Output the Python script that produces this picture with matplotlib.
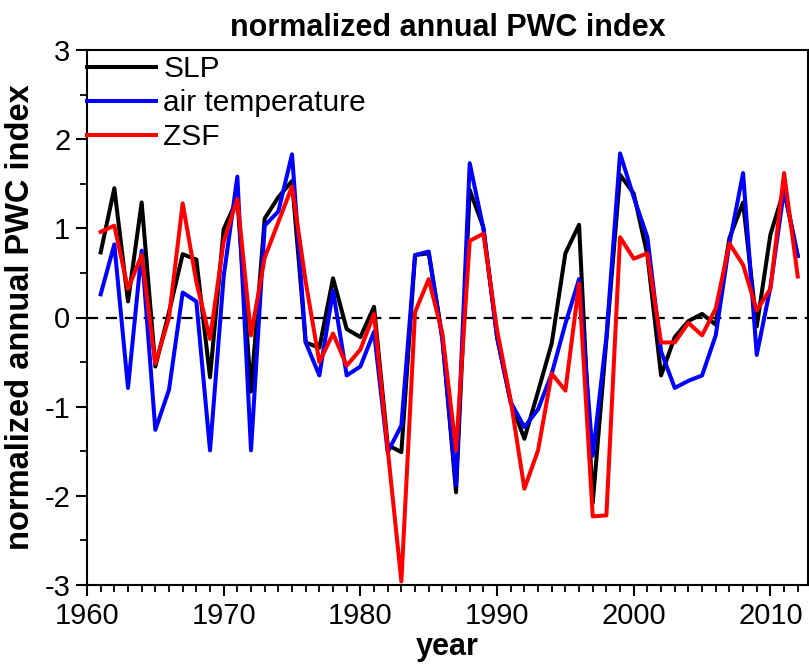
import numpy as np
import matplotlib
matplotlib.use("Agg")
import matplotlib.pyplot as plt
from matplotlib.ticker import MultipleLocator

plt.rcParams['font.family'] = ['Liberation Sans', 'DejaVu Sans']
plt.rcParams['axes.unicode_minus'] = False

years = np.arange(1961, 2013)

slp = [0.73, 1.45, 0.18, 1.29, -0.55, 0.06, 0.71, 0.65, -0.67, 0.99,
       1.33, -0.83, 1.11, 1.35, 1.53, -0.28, -0.34, 0.44, -0.13, -0.22,
       0.12, -1.43, -1.51, 0.70, 0.72, -0.22, -1.96, 1.43, 1.01, -0.22,
       -0.95, -1.36, -0.83, -0.29, 0.72, 1.04, -2.08, -0.25, 1.60, 1.39,
       0.70, -0.65, -0.22, -0.04, 0.04, -0.08, 0.89, 1.29, -0.10, 0.93,
       1.43, 0.69]

air_temp = [0.26, 0.82, -0.79, 0.75, -1.26, -0.81, 0.28, 0.18, -1.49, 0.46,
            1.58, -1.49, 1.03, 1.19, 1.83, -0.28, -0.65, 0.30, -0.65, -0.55,
            -0.16, -1.51, -1.21, 0.70, 0.74, -0.25, -1.88, 1.73, 1.00, -0.22,
            -0.95, -1.23, -1.03, -0.63, -0.07, 0.43, -1.55, -0.22, 1.84, 1.35,
            0.90, -0.38, -0.79, -0.71, -0.65, -0.20, 0.83, 1.62, -0.42, 0.34,
            1.43, 0.69]

zsf = [0.96, 1.03, 0.32, 0.70, -0.52, 0.00, 1.28, 0.40, -0.24, 0.85,
       1.33, -0.20, 0.67, 1.07, 1.47, 0.40, -0.50, -0.18, -0.54, -0.36,
       0.04, -1.48, -2.96, 0.06, 0.43, -0.18, -1.49, 0.86, 0.94, -0.14,
       -0.93, -1.92, -1.49, -0.63, -0.82, 0.38, -2.23, -2.22, 0.90, 0.66,
       0.72, -0.28, -0.28, -0.06, -0.20, 0.10, 0.83, 0.59, 0.08, 0.32,
       1.62, 0.46]

fig = plt.figure(figsize=(8.09, 6.64), dpi=100)
ax = fig.add_axes([87 / 809, 1 - 585 / 664, 721 / 809, 535 / 664])

ax.axhline(0, color='black', lw=1.6, ls=(0, (5, 3.5)), zorder=1)
ax.plot(years, slp, color='black', lw=2.9, label='SLP', zorder=2)
ax.plot(years, air_temp, color='#0000ff', lw=2.9, label='air temperature', zorder=3)
ax.plot(years, zsf, color='#ff0000', lw=2.9, label='ZSF', zorder=4)

ax.set_xlim(1960, 2012.75)
ax.set_ylim(-3, 3)
ax.xaxis.set_major_locator(MultipleLocator(10))
ax.xaxis.set_minor_locator(MultipleLocator(1))
ax.yaxis.set_major_locator(MultipleLocator(1))
ax.yaxis.set_minor_locator(MultipleLocator(0.5))
ax.tick_params(which='major', direction='out', length=8, width=1.5,
               labelsize=21, pad=4)
ax.tick_params(which='minor', direction='out', length=5, width=1.3)
for s in ax.spines.values():
    s.set_linewidth(1.5)

ax.set_title('normalized annual PWC index', fontsize=22, fontweight='bold', pad=10)
ax.set_xlabel('year', fontsize=22, fontweight='bold', labelpad=2)
ax.set_ylabel('normalized annual PWC index', fontsize=23.5, fontweight='bold', labelpad=6)

ax.legend(loc='upper left', bbox_to_anchor=(0.0, 0.99), frameon=False,
          fontsize=21.5, handlelength=2.3, handletextpad=0.25,
          labelspacing=0.2, borderaxespad=0.0, borderpad=0.0)

fig.savefig('out.png', dpi=100)
